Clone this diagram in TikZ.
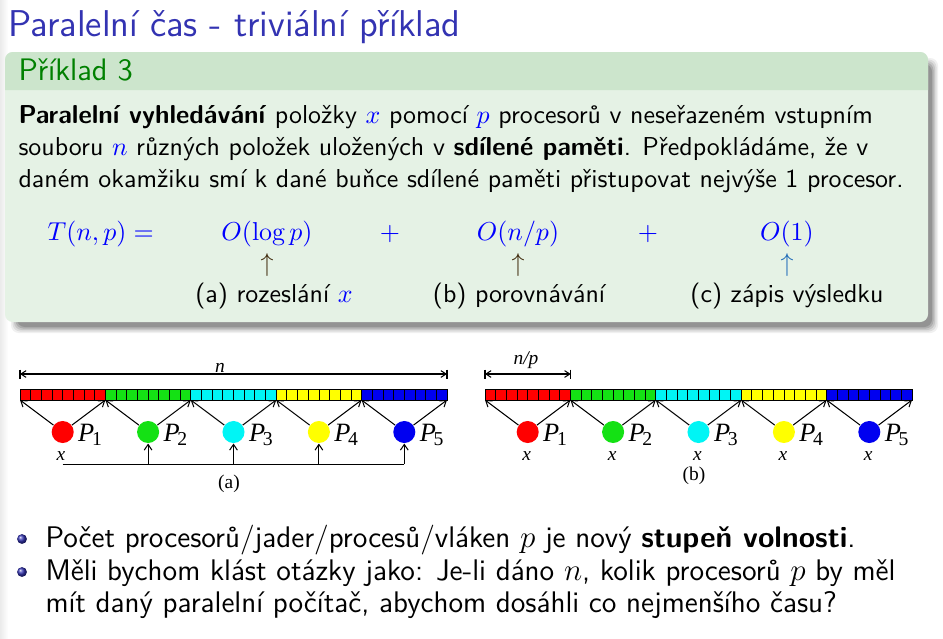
\documentclass[tikz,border=0pt]{standalone}
\usepackage{fontspec}
\usetikzlibrary{arrows.meta,shadings}
\newfontfamily\tms{Liberation Serif}
\definecolor{titleblue}{rgb}{0.2,0.2,0.7}
\definecolor{exgreen}{rgb}{0,0.5,0}
\definecolor{hdrbg}{rgb}{0.8,0.9,0.8}
\definecolor{bodybg}{rgb}{0.9,0.95,0.9}
\definecolor{arrbrown}{rgb}{0.25,0.17,0.05}
\definecolor{arrblue}{rgb}{0.12,0.42,0.72}
\definecolor{cred}{RGB}{255,0,0}
\definecolor{cgreen}{RGB}{20,225,20}
\definecolor{ccyan}{RGB}{0,245,245}
\definecolor{cyellow}{RGB}{255,255,0}
\definecolor{cblue}{RGB}{0,0,240}
\newcommand{\mblue}[1]{{\color{blue}$#1$}}
\newcommand{\subd}[1]{\kern-0.9pt\raisebox{-1.6pt}{\upshape\fontsize{7.6}{7.6}\selectfont #1}}
\begin{document}
\begin{tikzpicture}[x=0.386pt,y=-0.386pt,
  txt/.style={inner sep=0pt,anchor=base west,font=\sffamily\fontsize{10}{12}\selectfont},
  btxt/.style={inner sep=0pt,anchor=base west,font=\sffamily\fontsize{11.5}{14}\selectfont},
  ctr/.style={inner sep=0pt,anchor=base,font=\sffamily\fontsize{10}{12}\selectfont},
  ttl/.style={inner sep=0pt,anchor=base west,text=titleblue,font=\sffamily\fontsize{14.4}{17}\selectfont},
  hdr/.style={inner sep=0pt,anchor=base west,text=exgreen,font=\sffamily\fontsize{12}{14.5}\selectfont},
  proc/.style={circle,inner sep=0pt,minimum size=8.5pt},
  plab/.style={inner sep=0pt,anchor=base west,font=\tms\fontsize{10.2}{12}\selectfont\itshape},
  dlab/.style={inner sep=0pt,anchor=base,font=\tms\fontsize{7.5}{9}\selectfont},
  ilab/.style={dlab,font=\tms\fontsize{7.5}{9}\selectfont\itshape},
  darr/.style={-{Straight Barb[length=2.2pt,width=3pt]},line width=0.4pt},
  cellbox/.style={draw=black,line width=0.3pt},
  ballnode/.style={circle,inner sep=0pt,minimum size=3.8pt,shading=ball,ball color=titleblue}
]
\useasboundingbox (0,0) rectangle (943,638);
\fill[white] (0,0) rectangle (943,638);
\shade[left color=black!8,right color=white] (0,0) rectangle (8,638);

% title
\node[ttl] (title) at (8,36) {Paralelní čas - triviální příklad};

% block shadow
\foreach \d/\o in {0/0.06,1.5/0.08,3/0.1,4.5/0.12,6/0.15}
  \fill[black,opacity=\o,rounded corners=3pt] (11+\d,58+\d) rectangle (938-\d,333-\d);
% block
\fill[bodybg,rounded corners=3pt] (5,52) rectangle (928,322);
\fill[hdrbg] (5,90) [rounded corners=3pt] -- (5,52) -- (928,52) [sharp corners] -- (928,90) -- cycle;

\node[hdr] (hdr) at (18,80) {Příklad 3};
\node[txt] (l1) at (18,123) {\textbf{Paralelní vyhledávání} položky \mblue{x} pomocí \mblue{p} procesorů v neseřazeném vstupním};
\node[txt] (l2) at (18,155) {souboru \mblue{n} různých položek uložených v \textbf{sdílené paměti}. Předpokládáme, že v};
\node[txt] (l3) at (18,187) {daném okamžiku smí k dané buňce sdílené paměti přistupovat nejvýše 1 procesor.};

% formula
\node[txt,text=blue] (T) at (47,240) {$T(n,p) =$};
\node[ctr,text=blue] (f1) at (267,240) {$O(\log p)$};
\node[ctr,text=blue] (plus1) at (390,240) {$+$};
\node[ctr,text=blue] (f2) at (518,240) {$O(n/p)$};
\node[ctr,text=blue] (plus2) at (648,240) {$+$};
\node[ctr,text=blue] (f3) at (787,240) {$O(1)$};
\node[ctr,text=arrbrown] (u1) at (267,271) {$\uparrow$};
\node[ctr,text=arrbrown] (u2) at (518,271) {$\uparrow$};
\node[ctr,text=arrblue] (u3) at (787,271) {$\uparrow$};
\node[ctr] (la) at (274,302) {(a) rozeslání \mblue{x}};
\node[ctr] (lb) at (519,302) {(b) porovnávání};
\node[ctr] (lc) at (787,302) {(c) zápis výsledku};

% ---------- diagram (a)
\coordinate (ra0) at (20,374); \coordinate (ra1) at (447,374);
\draw[line width=0.4pt,{Straight Barb[length=2pt,width=2.6pt]}-{Straight Barb[length=2pt,width=2.6pt]}] (ra0) -- (ra1);
\draw[line width=0.4pt] (20,369.5) -- (20,378.5) (447,369.5) -- (447,378.5);
\node[ilab] (na) at (220,372) {n};
\foreach \g/\c in {0/cred,1/cgreen,2/ccyan,3/cyellow,4/cblue}{
  \foreach \k in {0,...,7}
    \filldraw[fill=\c,cellbox] ({20+10.675*(8*\g+\k)},389.5) rectangle +(10.675,10.5);
}
\foreach \i in {0,...,5} \coordinate (ga\i) at ({20+85.4*\i},400);
\foreach \i/\c in {1/cred,2/cgreen,3/ccyan,4/cyellow,5/cblue}{
  \node[proc,fill=\c] (pa\i) at ({62.7+85.4*(\i-1)},432) {};
  \node[plab] (pla\i) at ({62.7+85.4*(\i-1)+15},441) {P\subd{\i}};
}
\foreach \i [count=\j from 0] in {1,...,5}{
  \draw[darr] (pa\i) -- (ga\j);
  \draw[darr] (pa\i) -- (ga\i);
}
\node[ilab] (xa) at (61,460) {x};
\coordinate (ba1) at (62.7,464.3);
\foreach \i in {2,...,5}{
  \coordinate (ba\i) at ({62.7+85.4*(\i-1)},464.3);
  \draw[darr] (ba\i) -- (pa\i);
}
\draw[line width=0.5pt] (ba1) -- (ba5);
\node[dlab] (capa) at (229,488) {(a)};

% ---------- diagram (b)
\coordinate (rb0) at (485,374); \coordinate (rb1) at (570.7,374);
\draw[line width=0.4pt,{Straight Barb[length=2pt,width=2.6pt]}-{Straight Barb[length=2pt,width=2.6pt]}] (rb0) -- (rb1);
\draw[line width=0.4pt] (485,369.5) -- (485,378.5) (570.7,369.5) -- (570.7,378.5);
\node[ilab] (nb) at (526,364) {n/p};
\foreach \g/\c in {0/cred,1/cgreen,2/ccyan,3/cyellow,4/cblue}{
  \foreach \k in {0,...,7}
    \filldraw[fill=\c,cellbox] ({485+10.675*(8*\g+\k)},389.5) rectangle +(10.675,10.5);
}
\foreach \i in {0,...,5} \coordinate (gb\i) at ({485+85.4*\i},400);
\foreach \i/\c in {1/cred,2/cgreen,3/ccyan,4/cyellow,5/cblue}{
  \node[proc,fill=\c] (pb\i) at ({527.7+85.4*(\i-1)},432) {};
  \node[plab] (plb\i) at ({527.7+85.4*(\i-1)+15},441) {P\subd{\i}};
  \node[ilab] (xb\i) at ({527.7+85.4*(\i-1)-1},460) {x};
}
\foreach \i [count=\j from 0] in {1,...,5}{
  \draw[darr] (pb\i) -- (gb\j);
  \draw[darr] (pb\i) -- (gb\i);
}
\node[dlab] (capb) at (694,480) {(b)};

% bullets
\node[ballnode] (b1) at (22,539) {};
\node[ballnode] (b2) at (22,572) {};
\node[btxt] (t1) at (45,547) {Počet procesorů/jader/procesů/vláken $p$ je nový \textbf{stupeň volnosti}.};
\node[btxt] (t2) at (45,580) {Měli bychom klást otázky jako: Je-li dáno $n$, kolik procesorů $p$ by měl};
\node[btxt] (t3) at (45,612) {mít daný paralelní počítač, abychom dosáhli co nejmenšího času?};
\end{tikzpicture}
\end{document}
